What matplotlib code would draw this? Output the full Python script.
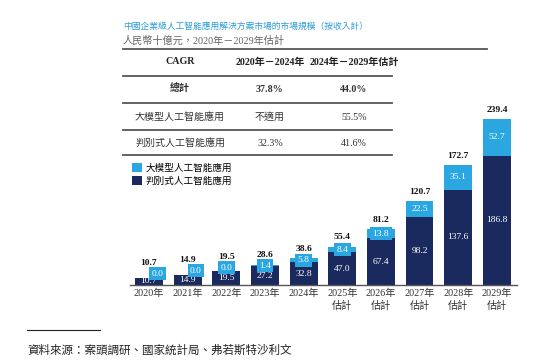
import numpy as np
import matplotlib.pyplot as plt
from matplotlib.lines import Line2D

years = ["2020年", "2021年", "2022年", "2023年", "2024年",
         "2025年\n估計", "2026年\n估計", "2027年\n估計", "2028年\n估計", "2029年\n估計"]
discriminative = [10.7, 14.9, 19.5, 27.2, 32.8, 47.0, 67.4, 98.2, 137.6, 186.8]
large_model = [0.0, 0.0, 0.0, 1.4, 5.8, 8.4, 13.8, 22.5, 35.1, 52.7]
totals = [10.7, 14.9, 19.5, 28.6, 38.6, 55.4, 81.2, 120.7, 172.7, 239.4]

cagr_header = ["CAGR", "2020年－2024年", "2024年－2029年估計"]
cagr_rows = [["總計", "37.8%", "44.0%"],
             ["大模型人工智能應用", "不適用", "55.5%"],
             ["判別式人工智能應用", "32.3%", "41.6%"]]

DARK = "#1b2a5e"
LIGHT = "#2aa7e0"
W, H = 554, 363
FONTS = ["Liberation Serif", "Noto Sans CJK TC", "DejaVu Sans"]
plt.rcParams["font.family"] = FONTS


def fx(x):
    return x / W


def fy(y):
    return 1 - y / H


fig = plt.figure(figsize=(W / 100, H / 100), dpi=100)

# 標題
fig.text(fx(123), fy(26), "中國企業級人工智能應用解決方案市場的市場規模（按收入計）",
         color="#2b9bd6", fontsize=6.3, va="center", family=["Noto Sans CJK TC"])
fig.text(fx(123), fy(41), "人民幣十億元，2020年－2029年估計",
         color="#666666", fontsize=7.3, va="center")

# CAGR 表
def hline(y, x0, x1, lw=1.3, color="#555555"):
    fig.add_artist(Line2D([fx(x0), fx(x1)], [fy(y), fy(y)], lw=lw, color=color,
                          transform=fig.transFigure))

hline(49, 123, 487)
for y in [76, 103, 130, 155]:
    hline(y, 123, 392)

col_x = [180, 270, 354]
for x, t in zip(col_x, cagr_header):
    fig.text(fx(x), fy(62), t, ha="center", va="center", fontsize=7.2,
             fontweight="bold", color="#222222")
for r, row in enumerate(cagr_rows):
    y = [89, 117, 143][r]
    for x, t in zip(col_x, row):
        fig.text(fx(x), fy(y), t, ha="center", va="center", fontsize=7.2,
                 fontweight="bold" if r == 0 else "normal", color="#333333")

# 堆疊柱狀圖
ax = fig.add_axes([fx(130), fy(285), (517 - 130) / W, 175 / H])
x = np.arange(len(years))
bw = 0.72
ax.bar(x, discriminative, bw, color=DARK, label="判別式人工智能應用")
ax.bar(x, large_model, bw, bottom=discriminative, color=LIGHT, label="大模型人工智能應用")
ax.set_xlim(-0.49, 9.52)
ax.set_ylim(0, 252.5)

for i in range(len(years)):
    d, l, t = discriminative[i], large_model[i], totals[i]
    ax.text(x[i], d / 2, f"{d:.1f}", ha="center", va="center", color="white", fontsize=6.8)
    if l == 0:
        dx = 6 if i < 2 else 0
        ax.annotate(f"{l:.1f}", (x[i], d), xytext=(dx, 2.8), textcoords="offset points",
                    ha="center", va="center", color="white", fontsize=6.8,
                    bbox=dict(boxstyle="square,pad=0.25", fc=LIGHT, ec="none"))
        top_off = 10.5
    else:
        ax.text(x[i], d + l / 2, f"{l:.1f}", ha="center", va="center", color="white",
                fontsize=6.8, bbox=dict(boxstyle="square,pad=0.25", fc=LIGHT, ec="none"))
        top_off = 7 if l < 10 else 6.5
    ax.annotate(f"{t:.1f}", (x[i], t), xytext=(0, top_off), textcoords="offset points",
                ha="center", va="center", fontsize=6.8, fontweight="bold", color="#111111")

ax.set_xticks(x)
ax.set_xticklabels(years, fontsize=7.3, color="#333333", linespacing=1.25)
ax.tick_params(axis="x", length=0, pad=3)
ax.set_yticks([])
for s in ["top", "right", "left"]:
    ax.spines[s].set_visible(False)
ax.spines["bottom"].set_color("#555555")
ax.spines["bottom"].set_linewidth(1)

handles, labels = ax.get_legend_handles_labels()
ax.legend(handles[::-1], labels[::-1], loc="upper left",
          bbox_to_anchor=(fx(133) - fx(130), 1 - (163 - 110) / 175),
          frameon=False, fontsize=6.9, handlelength=1.0, handleheight=1.0,
          handletextpad=0.4, labelspacing=0.35, borderaxespad=0, borderpad=0)

# 資料來源
hline(330, 27, 100, lw=0.8, color="#222222")
fig.text(fx(27), fy(351), "資料來源：案頭調研、國家統計局、弗若斯特沙利文",
         fontsize=8.3, va="center", color="#222222", style="italic")

fig.savefig("out.png", dpi=100)
